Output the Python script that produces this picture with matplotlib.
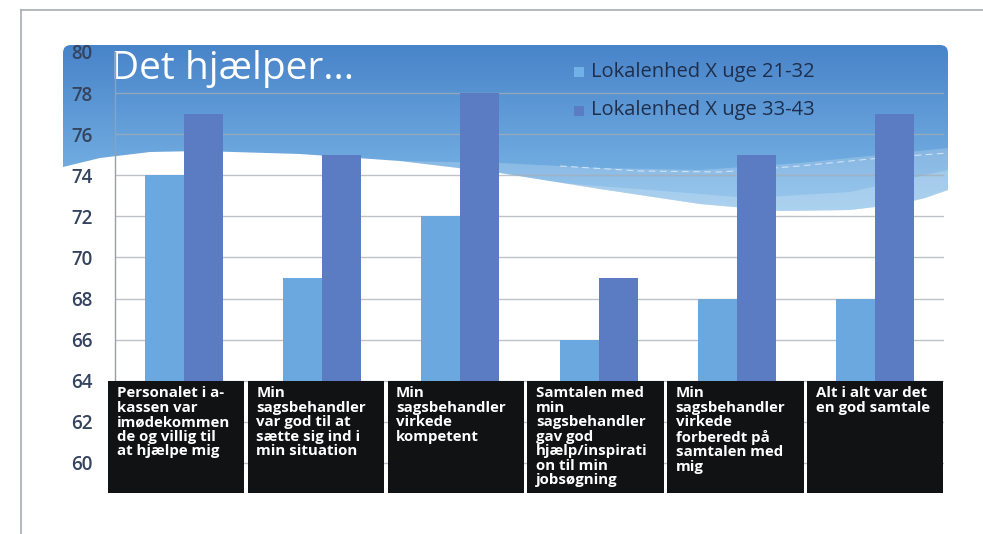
import matplotlib
matplotlib.use("Agg")
import matplotlib.pyplot as plt
import numpy as np
from matplotlib.patches import Rectangle, PathPatch, Polygon
from matplotlib.path import Path

plt.rcParams['font.family'] = ['Open Sans', 'DejaVu Sans']

# ---------------- data ----------------
categories = [
    "Personalet i a-\nkassen var\nimødekommen\nde og villig til\nat hjælpe mig",
    "Min\nsagsbehandler\nvar god til at\nsætte sig ind i\nmin situation",
    "Min\nsagsbehandler\nvirkede\nkompetent",
    "Samtalen med\nmin\nsagsbehandler\ngav god\nhjælp/inspirati\non til min\njobsøgning",
    "Min\nsagsbehandler\nvirkede\nforberedt på\nsamtalen med\nmig",
    "Alt i alt var det\nen god samtale",
]
series_names = ["Lokalenhed X uge 21-32", "Lokalenhed X uge 33-43"]
values_21_32 = [74, 69, 72, 66, 68, 68]
values_33_43 = [77, 75, 78, 69, 75, 77]
yticks = [58, 60, 62, 64, 66, 68, 70, 72, 74, 76, 78, 80]
title = "Det hjælper..."

# ---------------- figure ----------------
W, H = 983, 534
fig = plt.figure(figsize=(W / 100, H / 100), dpi=100)
fig.patch.set_facecolor("white")

# background axes in pixel coordinates
bg = fig.add_axes([0, 0, 1, 1], zorder=0)
bg.set_xlim(0, W)
bg.set_ylim(H, 0)
bg.axis("off")

# outer frame lines
bg.plot([21, W], [10, 10], color="#A8ABB3", lw=1.2)
bg.plot([21, 21], [10, H], color="#A8ABB3", lw=1.2)

# blue wave banner
x0, x1, ytop = 63, 948, 45
r = 8
bottom_pts = [(948, 190), (925, 198), (900, 204), (850, 210), (780, 211),
              (700, 204), (600, 189), (500, 173), (400, 161), (300, 154),
              (200, 151), (150, 152), (100, 158), (63, 167)]
verts = [(x0, 167), (x0, ytop + r), (x0, ytop), (x0 + r, ytop),
         (x1 - r, ytop), (x1, ytop), (x1, ytop + r), (x1, 190)]
codes = [Path.MOVETO, Path.LINETO, Path.CURVE3, Path.CURVE3,
         Path.LINETO, Path.CURVE3, Path.CURVE3, Path.LINETO]
for p in bottom_pts[1:]:
    verts.append(p)
    codes.append(Path.LINETO)
verts.append((x0, 167))
codes.append(Path.CLOSEPOLY)
path = Path(verts, codes)
patch = PathPatch(path, facecolor="none", edgecolor="none")
bg.add_patch(patch)

grad = np.linspace(0, 1, 256).reshape(-1, 1)
c_top = np.array([0x48, 0x84, 0xC9]) / 255
c_bot = np.array([0x80, 0xBB, 0xE9]) / 255
img = c_top[None, None, :] * (1 - grad[..., None]) + c_bot[None, None, :] * grad[..., None]
img = np.repeat(img, 2, axis=1)
im = bg.imshow(img, extent=[x0, x1, 215, ytop], aspect="auto", zorder=1)
im.set_clip_path(patch)

# lighter translucent wave bands
band1 = [(400, 161), (500, 163), (600, 168), (700, 170), (800, 163), (948, 148),
         (948, 190), (925, 198), (900, 204), (850, 210), (780, 211), (700, 204),
         (600, 189), (500, 173)]
bg.add_patch(Polygon(band1, closed=True, facecolor="white", alpha=0.2,
                     edgecolor="none", zorder=2))
band2 = [(560, 183), (650, 190), (750, 198), (850, 192), (948, 170),
         (948, 190), (925, 198), (900, 204), (850, 210), (780, 211), (700, 204),
         (600, 189)]
bg.add_patch(Polygon(band2, closed=True, facecolor="white", alpha=0.2,
                     edgecolor="none", zorder=2))
bg.plot([560, 640, 720, 800, 880, 948], [166, 171, 172, 166, 158, 153],
        color="white", lw=0.8, ls=(0, (6, 4)), alpha=0.6, zorder=3)

# ---------------- main axes ----------------
left_px, right_px, top_px, bot_px = 115, 944, 52, 504
ax = fig.add_axes([left_px / W, (H - bot_px) / H, (right_px - left_px) / W,
                   (bot_px - top_px) / H], zorder=1)
ax.patch.set_alpha(0)
ax.set_xlim(-0.5, len(categories) - 0.5)
ax.set_ylim(58, 80)
ax.set_yticks(yticks)
ax.set_yticklabels([str(v) for v in yticks])
ax.tick_params(axis="y", length=0, pad=16, labelsize=13.5, labelcolor="#34435E")
ax.tick_params(axis="x", length=0, labelbottom=False)
for s in ["top", "right", "bottom"]:
    ax.spines[s].set_visible(False)
ax.spines["left"].set_color("#9A9EA8")
ax.spines["left"].set_linewidth(1.0)
ax.spines["left"].set_bounds(64, 80)
for lab in ax.get_yticklabels():
    lab.set_fontweight("semibold")
for v in yticks:
    if 58 < v < 80:
        ax.axhline(v, color="#A9ADB5", lw=1.0, alpha=0.75, zorder=1)

x = np.arange(len(categories))
bw = 0.282
ax.bar(x - bw / 2, np.array(values_21_32) - 64, bw, bottom=64, color="#6CA8E0",
       zorder=3)
ax.bar(x + bw / 2, np.array(values_33_43) - 64, bw, bottom=64, color="#5B7CC2",
       zorder=3)

# black category boxes (slightly wider pitch than the bars, as in the original)
box_bottom = 58.55
pitch = 1.0118
for i, cat in enumerate(categories):
    lx = -0.551 + i * pitch
    wdt = 0.988
    ax.add_patch(Rectangle((lx, box_bottom), wdt, 64 - box_bottom,
                           facecolor="#111214", edgecolor="none",
                           zorder=5, clip_on=False))
    ax.text(lx + 0.062, 63.72, cat, color="white", fontsize=10.8,
            fontweight="bold", va="top", ha="left", linespacing=1.04, zorder=6)

# cover the cut-off bottom of the chart
fig.add_artist(Rectangle((0.03, 0), 0.09, (H - 497) / H, transform=fig.transFigure,
                         facecolor="white", edgecolor="none", zorder=10))

# title
bg.text(111, 69, title, color="white", fontsize=28, va="center", ha="left",
        zorder=5)

# legend
leg_colors = ["#70B2E8", "#5B7CC2"]
for j, (name, col) in enumerate(zip(series_names, leg_colors)):
    yc = 72 + j * 38.5
    bg.add_patch(Rectangle((574, yc - 5), 10, 10, facecolor=col,
                           edgecolor="none", zorder=5))
    bg.text(591, yc, name, color="#1E2E4C", fontsize=14.5, va="center",
            ha="left", zorder=5)

fig.savefig("out.png", dpi=100)
